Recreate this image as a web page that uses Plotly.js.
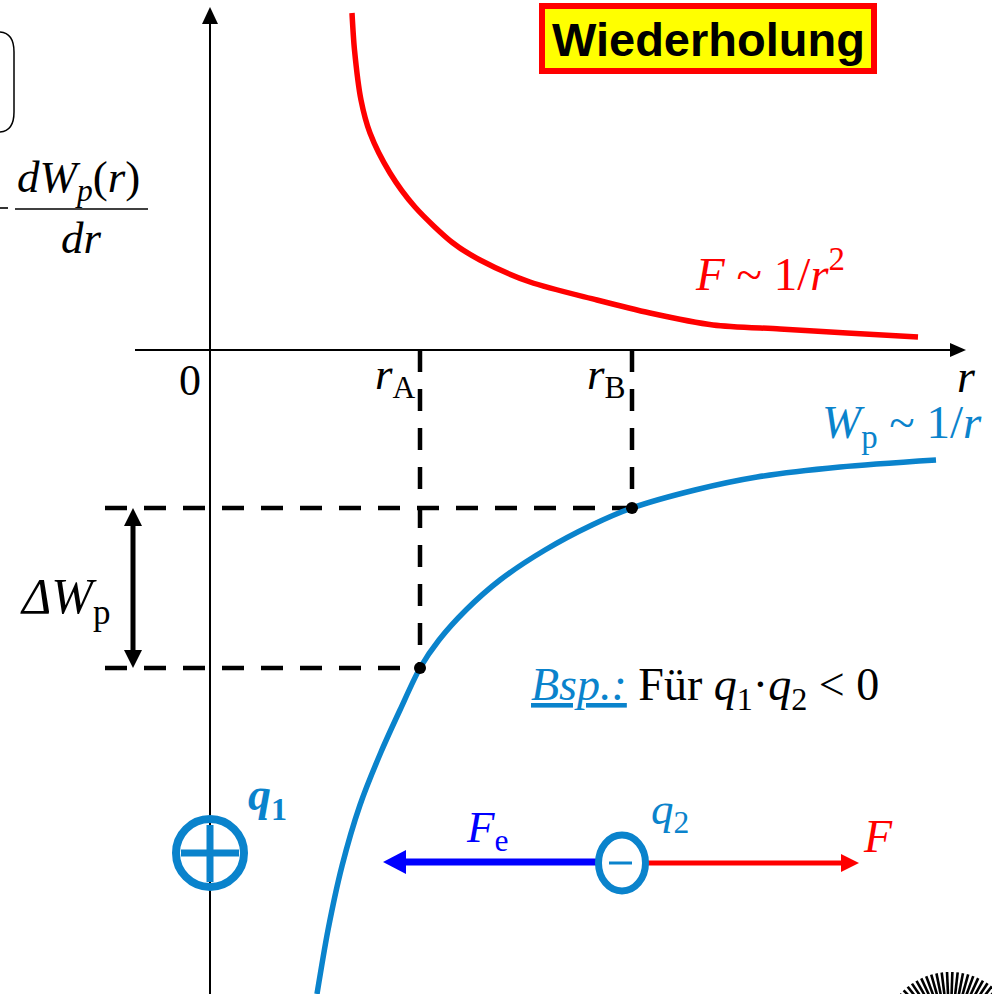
<!DOCTYPE html>
<html>
<head>
<meta charset="utf-8">
<script src="https://cdn.plot.ly/plotly-3.0.1.min.js"></script>
<style>html,body{margin:0;padding:0;background:#fff;overflow:hidden}</style>
</head>
<body>
<div id="chart" style="width:992px;height:994px"></div>
<script>
// Coulomb force F(r) and potential energy Wp(r) for q1*q2 < 0 (schematic units)
const forceR = [1.42, 1.445, 1.51, 1.60, 1.80, 2.05, 2.43, 2.70, 3.20, 3.87, 4.40, 5.03, 5.70, 6.37, 7.08];
const forceF = [3.37, 3.00, 2.50, 2.17, 1.77, 1.43, 1.07, 0.90, 0.68, 0.50, 0.37, 0.25, 0.21, 0.17, 0.13];
const potR = [1.07, 1.18, 1.32, 1.50, 1.71, 1.90, 2.10, 2.29, 2.56, 2.90, 3.35, 3.82, 4.22, 4.85, 5.47, 6.30, 7.26];
const potW = [-6.44, -5.80, -5.16, -4.55, -4.02, -3.60, -3.18, -2.90, -2.60, -2.30, -2.00, -1.75, -1.58, -1.40, -1.27, -1.17, -1.10];
// the two radii rA, rB and the potential energy there
const markR = [2.10, 4.22];
const markW = [-3.18, -1.58];
const markNames = ['A', 'B'];

const S = 100;                       // pixels per unit
const X = p => (p - 210) / S;        // page pixel -> r
const Y = p => (350 - p) / S;        // page pixel -> value

const SERIF = 'Liberation Serif, Times New Roman, serif';
const SANS = 'Liberation Sans, Arial, sans-serif';
const BLUE = '#0a83cc';
const RED = '#ff0000';

function headPath(tx, ty, ux, uy, len, half) {
  const L = len / S, H = half / S;
  const bx = tx - ux * L, by = ty - uy * L;
  const nx = -uy * H, ny = ux * H;
  return `M${tx},${ty} L${bx + nx},${by + ny} L${bx - nx},${by - ny} Z`;
}
function head(tx, ty, ux, uy, len, half, color) {
  return {type: 'path', xref: 'x', yref: 'y', path: headPath(tx, ty, ux, uy, len, half),
          fillcolor: color, line: {color: color, width: 0}};
}
function seg(x0, y0, x1, y1, color, width, extra) {
  return Object.assign({type: 'line', xref: 'x', yref: 'y', x0, y0, x1, y1,
          line: {color: color, width: width}}, extra || {});
}

const traces = [];

// helper lines from rA / rB to the curve and to the left edge
const dashStyle = {color: '#000', width: 4.5, dash: '22px,17px'};
markR.forEach((r, i) => {
  traces.push({x: [r, r], y: [0, markW[i]], mode: 'lines', line: dashStyle, hoverinfo: 'skip'});
  traces.push({x: [X(105), r], y: [markW[i], markW[i]], mode: 'lines', line: dashStyle, hoverinfo: 'skip'});
});

traces.push({x: forceR, y: forceF, mode: 'lines', line: {color: RED, width: 5.5, shape: 'spline', smoothing: 0.8}, hoverinfo: 'skip'});
traces.push({x: potR, y: potW, mode: 'lines', line: {color: BLUE, width: 5.5, shape: 'spline', smoothing: 0.8}, hoverinfo: 'skip'});
traces.push({x: markR, y: markW, mode: 'markers', marker: {color: '#000', size: 12}, hoverinfo: 'skip'});

const shapes = [];
// axes
shapes.push(seg(X(210), Y(994), X(210), Y(20), '#000', 2));
shapes.push(head(X(210), Y(7), 0, 1, 17, 8, '#000'));
shapes.push(seg(X(135), 0, X(952), 0, '#000', 2));
shapes.push(head(X(966), 0, 1, 0, 16, 7, '#000'));

// ΔWp double arrow
const dx = X(133);
shapes.push(seg(dx, markW[1] - 0.12, dx, markW[0] + 0.12, '#000', 5));
shapes.push(head(dx, markW[1], 0, 1, 18, 9, '#000'));
shapes.push(head(dx, markW[0], 0, -1, 18, 9, '#000'));

// "Wiederholung" box
shapes.push({type: 'rect', xref: 'x', yref: 'y', x0: X(542), x1: X(874), y0: Y(6), y1: Y(71),
             fillcolor: '#ffff00', line: {color: RED, width: 6}});

// fraction and bracket at the upper left
shapes.push(seg(X(15), Y(209), X(148), Y(209), '#000', 1.6));
shapes.push(seg(X(0), Y(208), X(8), Y(208), '#000', 1.6));
shapes.push({type: 'path', xref: 'x', yref: 'y',
             path: `M${X(0)},${Y(32)} Q${X(14)},${Y(33)} ${X(14)},${Y(52)} L${X(14)},${Y(112)} Q${X(14)},${Y(131)} ${X(0)},${Y(132)}`,
             line: {color: '#000', width: 1.5}});

// charge q1 (positive)
shapes.push({type: 'circle', xref: 'x', yref: 'y', x0: X(176), x1: X(244), y0: Y(819), y1: Y(887),
             line: {color: BLUE, width: 8}, fillcolor: 'rgba(0,0,0,0)'});
shapes.push(seg(X(181), Y(853), X(239), Y(853), BLUE, 7));
shapes.push(seg(X(210), Y(825), X(210), Y(882), BLUE, 7));

// forces on q2
shapes.push(seg(X(400), Y(862), X(598), Y(862), '#0000ff', 7));
shapes.push(head(X(383), Y(862), -1, 0, 23, 12, '#0000ff'));
shapes.push(seg(X(648), Y(863), X(845), Y(863), RED, 5));
shapes.push(head(X(859), Y(863), 1, 0, 18, 9, RED));

// charge q2 (negative)
shapes.push({type: 'circle', xref: 'x', yref: 'y', x0: X(598.5), x1: X(645.5), y0: Y(835), y1: Y(891),
             line: {color: BLUE, width: 7}, fillcolor: '#fff'});
shapes.push(seg(X(609), Y(863), X(632), Y(863), BLUE, 3));

// emblem rays at the lower right
for (let a = 182; a <= 358; a += 4.5) {
  const t = a * Math.PI / 180;
  const cx = 950, cy = 1040;
  shapes.push(seg(X(cx + 44 * Math.cos(t)), Y(cy + 44 * Math.sin(t)),
                  X(cx + 68 * Math.cos(t)), Y(cy + 68 * Math.sin(t)), '#000', 2.6));
}

function ann(text, xp, yp, size, color, opts) {
  return Object.assign({text: text, x: X(xp), y: Y(yp), xref: 'x', yref: 'y', showarrow: false,
          xanchor: 'left', yanchor: 'middle', font: {family: SERIF, size: size, color: color}}, opts || {});
}

const annotations = [
  ann('<b>Wiederholung</b>', 708, 39, 47, '#000', {xanchor: 'center', font: {family: SANS, size: 47, color: '#000'}}),
  ann('0', 190, 380, 44, '#000', {xanchor: 'center'}),
  ann('<i>r</i><sub>' + markNames[0] + '</sub>', 373, 377, 45, '#000'),
  ann('<i>r</i><sub>' + markNames[1] + '</sub>', 585, 377, 45, '#000'),
  ann('<i>r</i>', 955, 376, 46, '#000'),
  ann('<i>F</i> ~ 1/<i>r</i><sup>2</sup>', 693, 270, 47, RED),
  ann('<i>W</i><sub>p</sub> ~ 1/<i>r</i>', 820, 425, 47, BLUE),
  ann('<i>ΔW</i><sub>p</sub>', 18, 600, 50, '#000'),
  ann('<span style="color:' + BLUE + '"><u><i>Bsp.:</i></u></span> Für <i>q</i><sub>1</sub>·<i>q</i><sub>2</sub> &lt; 0', 529, 688, 46, '#000'),
  ann('<b><i>q</i><sub>1</sub></b>', 246, 798, 46, BLUE),
  ann('<i>q</i><sub>2</sub>', 649, 812, 45, BLUE),
  ann('<i>F</i><sub>e</sub>', 464, 830, 45, '#0000ff'),
  ann('<i>F</i>', 861, 836, 46, RED),
  ann('<i>dW</i><sub><i>p</i></sub>(<i>r</i>)', 15, 180, 45, '#000'),
  ann('<i>dr</i>', 59, 238, 45, '#000')
];

const layout = {
  width: 992, height: 994,
  margin: {l: 0, r: 0, t: 0, b: 0, pad: 0},
  paper_bgcolor: '#fff', plot_bgcolor: '#fff',
  showlegend: false,
  xaxis: {range: [X(0), X(992)], visible: false, fixedrange: true},
  yaxis: {range: [Y(994), Y(0)], visible: false, fixedrange: true},
  shapes: shapes,
  annotations: annotations
};

Plotly.newPlot('chart', traces, layout, {staticPlot: true, displayModeBar: false});
</script>
</body>
</html>
